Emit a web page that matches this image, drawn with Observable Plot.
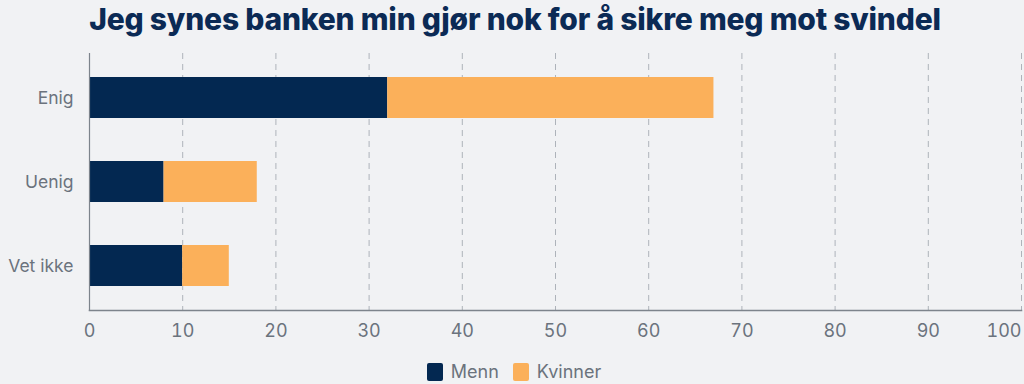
<!DOCTYPE html>
<html>
<head>
<meta charset="utf-8">
<script src="https://cdn.jsdelivr.net/npm/d3@7"></script>
<script src="https://cdn.jsdelivr.net/npm/@observablehq/plot@0.6"></script>
<style>
  html, body { margin: 0; padding: 0; background: #f1f2f4; width: 1024px; height: 384px; overflow: hidden; }
  #title { height: 40px; line-height: 38px; text-align: center; font-family: Inter, sans-serif; font-weight: 800; font-size: 30px; color: #0b2a55; letter-spacing: -0.2px; padding-left: 6px; }
  #legend { display: flex; justify-content: center; align-items: center; gap: 14px; font-family: Inter, sans-serif; font-size: 18px; color: #6b737d; margin-top: 16px; padding-left: 4px; }
  #legend span.item { display: flex; align-items: center; gap: 8px; }
  #legend span.sw { width: 16px; height: 18px; border-radius: 2px; display: inline-block; }
  svg { display: block; }
</style>
</head>
<body>
<div id="title">Jeg synes banken min gjør nok for å sikre meg mot svindel</div>
<div id="chart"></div>
<div id="legend"></div>
<script>
const categories = ["Enig", "Uenig", "Vet ikke"];
const seriesNames = ["Menn", "Kvinner"];
const menn = [32, 8, 10];
const kvinner = [35, 10, 5];
const xTicks = [0, 10, 20, 30, 40, 50, 60, 70, 80, 90, 100];
const colors = ["#032851", "#fbb05a"];

const data = [];
categories.forEach((c, i) => {
  data.push({category: c, series: seriesNames[0], value: menn[i]});
  data.push({category: c, series: seriesNames[1], value: kvinner[i]});
});

const gray = "#6b737d";
const chart = Plot.plot({
  width: 1024,
  height: 305,
  marginTop: 13,
  marginBottom: 35,
  marginLeft: 89,
  marginRight: 3,
  style: {fontFamily: "Inter, sans-serif", fontSize: "17px", color: gray, background: "transparent"},
  x: {domain: [0, 100], label: null},
  y: {domain: categories, label: null, paddingInner: 0.515, paddingOuter: 0.278},
  color: {domain: seriesNames, range: colors},
  marks: [
    Plot.ruleX(xTicks.slice(1), {stroke: "#aeb3ba", strokeWidth: 1, strokeDasharray: "6,5"}),
    Plot.barX(data, Plot.stackX({y: "category", x: "value", fill: "series", order: seriesNames})),
    Plot.frame({anchor: "left", stroke: "#7d848c", strokeWidth: 1.2}),
    Plot.frame({anchor: "bottom", stroke: "#7d848c", strokeWidth: 1.5}),
    Plot.axisY({tickSize: 0, tickPadding: 16, fill: gray, fontSize: 17.5}),
    Plot.axisX({ticks: xTicks.slice(0, -1), tickSize: 0, tickPadding: 14, fill: gray, fontSize: 18, tickFormat: d => String(d)}),
    Plot.axisX({ticks: xTicks.slice(-1), tickSize: 0, tickPadding: 14, fill: gray, fontSize: 18, textAnchor: "end", dx: 0, tickFormat: d => String(d)})
  ]
});
document.getElementById("chart").appendChild(chart);

const legend = document.getElementById("legend");
seriesNames.forEach((s, i) => {
  const item = document.createElement("span");
  item.className = "item";
  const sw = document.createElement("span");
  sw.className = "sw";
  sw.style.background = colors[i];
  const t = document.createElement("span");
  t.textContent = s;
  item.appendChild(sw);
  item.appendChild(t);
  legend.appendChild(item);
});
</script>
</body>
</html>
